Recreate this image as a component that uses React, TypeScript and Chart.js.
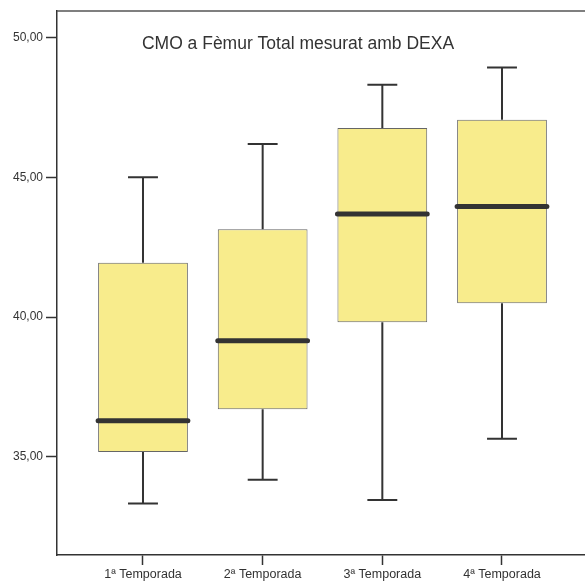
import React, { useEffect, useRef } from "react";
import { Chart, registerables } from "chart.js";

Chart.register(...registerables);

// Bone mineral content (CMO) at total femur, by season
const categories = ["1ª Temporada", "2ª Temporada", "3ª Temporada", "4ª Temporada"];
const whiskerLow = [33.32, 34.17, 33.45, 35.64];
const q1 = [35.17, 36.7, 39.81, 40.49];
const median = [36.29, 39.15, 43.69, 43.96];
const q3 = [41.94, 43.14, 46.77, 47.06];
const whiskerHigh = [45.0, 46.19, 48.32, 48.93];
const yTicks = [35, 40, 45, 50];
const titleText = "CMO a Fèmur Total mesurat amb DEXA";

const FONT = "'Liberation Sans', Arial, Helvetica, sans-serif";
const DARK = "#333333";

// Whiskers behind the boxes, medians and frame on top
const boxPlotExtras = {
  id: "boxPlotExtras",
  beforeDatasetsDraw(chart: any) {
    const { ctx, scales } = chart;
    const xs = scales.x;
    const ys = scales.y;
    const meta = chart.getDatasetMeta(0);
    ctx.save();
    ctx.strokeStyle = DARK;
    ctx.lineWidth = 2;
    ctx.lineCap = "butt";
    categories.forEach((_, i) => {
      const bar = meta.data[i];
      const cx = xs.getPixelForValue(i + 1);
      const capHalf = bar.width / 6;
      const yLow = ys.getPixelForValue(whiskerLow[i]);
      const yHigh = ys.getPixelForValue(whiskerHigh[i]);
      const yQ1 = ys.getPixelForValue(q1[i]);
      const yQ3 = ys.getPixelForValue(q3[i]);
      ctx.beginPath();
      ctx.moveTo(cx, yQ3);
      ctx.lineTo(cx, yHigh);
      ctx.moveTo(cx - capHalf, yHigh);
      ctx.lineTo(cx + capHalf, yHigh);
      ctx.moveTo(cx, yQ1);
      ctx.lineTo(cx, yLow);
      ctx.moveTo(cx - capHalf, yLow);
      ctx.lineTo(cx + capHalf, yLow);
      ctx.stroke();
    });
    ctx.restore();
  },
  afterDatasetsDraw(chart: any) {
    const { ctx, scales, chartArea } = chart;
    const xs = scales.x;
    const ys = scales.y;
    const meta = chart.getDatasetMeta(0);
    ctx.save();
    ctx.strokeStyle = DARK;
    ctx.lineWidth = 5;
    ctx.lineCap = "round";
    categories.forEach((_, i) => {
      const bar = meta.data[i];
      const cx = xs.getPixelForValue(i + 1);
      const half = bar.width / 2;
      const ym = ys.getPixelForValue(median[i]);
      ctx.beginPath();
      ctx.moveTo(cx - half, ym);
      ctx.lineTo(cx + half, ym);
      ctx.stroke();
    });
    // top frame line
    ctx.lineCap = "butt";
    ctx.lineWidth = 1.5;
    ctx.strokeStyle = "#555555";
    ctx.beginPath();
    ctx.moveTo(chartArea.left, chartArea.top);
    ctx.lineTo(chartArea.right, chartArea.top);
    ctx.stroke();
    // title inside the frame
    ctx.fillStyle = DARK;
    ctx.font = `17.5px ${FONT}`;
    ctx.textAlign = "center";
    ctx.textBaseline = "middle";
    ctx.fillText(titleText, 298, 44);
    ctx.restore();
  },
};

export default function App() {
  const canvasRef = useRef<HTMLCanvasElement | null>(null);

  useEffect(() => {
    const canvas = canvasRef.current;
    if (!canvas) return;
    const chart = new Chart(canvas, {
      type: "bar",
      data: {
        datasets: [
          {
            data: q1.map((v, i) => ({ x: i + 1, y: [v, q3[i]] })) as any,
            backgroundColor: "#F8EC8C",
            borderColor: "#666666",
            borderWidth: 1,
            borderSkipped: false,
            barPercentage: 0.75,
            categoryPercentage: 1,
          },
        ],
      },
      options: {
        animation: false,
        responsive: false,
        maintainAspectRatio: false,
        layout: { padding: { top: 11, right: 0, left: 0, bottom: 0 } },
        plugins: {
          legend: { display: false },
          tooltip: { enabled: false },
          title: { display: false },
        },
        scales: {
          x: {
            type: "linear",
            offset: false,
            min: 0.2814,
            max: 4.6936,
            afterBuildTicks: (scale: any) => {
              scale.ticks = categories.map((_, i) => ({ value: i + 1 }));
            },
            afterFit: (scale: any) => {
              scale.height = 27;
            },
            grid: {
              offset: false,
              drawOnChartArea: false,
              drawTicks: true,
              tickLength: 10,
              tickColor: DARK,
              tickWidth: 1.5,
            },
            border: { display: true, color: DARK, width: 1.5 },
            ticks: {
              autoSkip: false,
              maxRotation: 0,
              padding: 2,
              color: DARK,
              font: { family: FONT, size: 12.5 },
              callback: (v: any) => categories[Number(v) - 1] ?? "",
            },
          },
          y: {
            type: "linear",
            min: 31.48,
            max: 50.956,
            afterBuildTicks: (scale: any) => {
              scale.ticks = yTicks.map((v) => ({ value: v }));
            },
            afterFit: (scale: any) => {
              scale.width = 57;
            },
            grid: {
              drawOnChartArea: false,
              drawTicks: true,
              tickLength: 11,
              tickColor: DARK,
              tickWidth: 1.5,
            },
            border: { display: true, color: DARK, width: 1.5 },
            ticks: {
              padding: 3,
              color: DARK,
              font: { family: FONT, size: 12 },
              callback: (v: any) => Number(v).toFixed(2).replace(".", ","),
            },
          },
        },
      },
      plugins: [boxPlotExtras],
    });
    return () => chart.destroy();
  }, []);

  return (
    <div
      style={{
        position: "fixed",
        left: 0,
        top: 0,
        width: 585,
        height: 582,
        background: "#ffffff",
      }}
    >
      <canvas ref={canvasRef} width={585} height={582} style={{ display: "block" }} />
    </div>
  );
}
